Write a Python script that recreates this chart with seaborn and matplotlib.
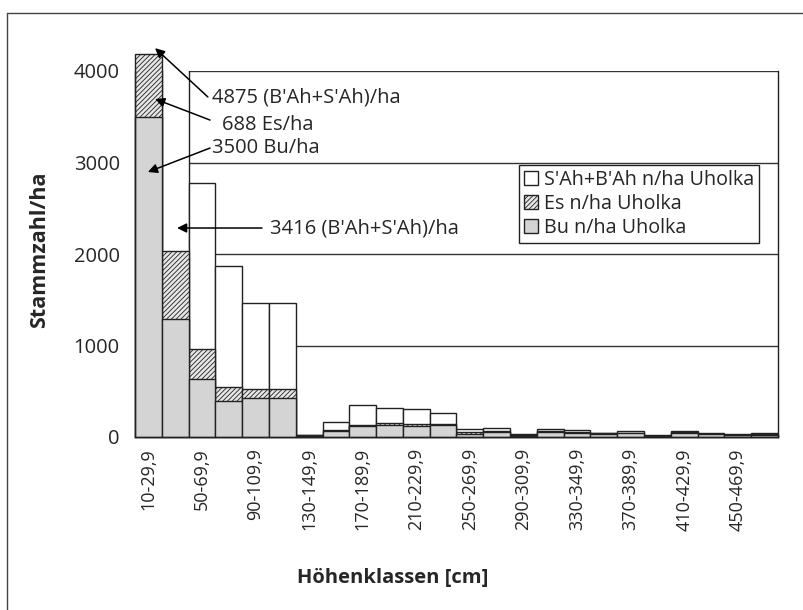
import matplotlib
matplotlib.use("Agg")
import matplotlib.pyplot as plt
from matplotlib.patches import Patch
from matplotlib.lines import Line2D
import seaborn as sns
import pandas as pd
import numpy as np

# Höhenklassen (20 cm)
klassen = ["10-29,9", "30-49,9", "50-69,9", "70-89,9", "90-109,9", "110-129,9",
           "130-149,9", "150-169,9", "170-189,9", "190-209,9", "210-229,9", "230-249,9",
           "250-269,9", "270-289,9", "290-309,9", "310-329,9", "330-349,9", "350-369,9",
           "370-389,9", "390-409,9", "410-429,9", "430-449,9", "450-469,9", "470-489,9"]

# n/ha per class
bu = [3500, 1290, 634, 393, 430, 430, 10, 62, 117, 128, 124, 128,
      35, 55, 15, 58, 45, 30, 40, 10, 45, 30, 20, 25]
es = [688, 743, 324, 157, 94, 94, 8, 19, 18, 25, 15, 18,
      15, 8, 10, 8, 6, 10, 5, 5, 5, 4, 5, 5]
ahorn = [4875, 3416, 1814, 1322, 944, 944, 7, 83, 219, 164, 171, 116,
         35, 37, 5, 26, 24, 8, 17, 5, 16, 10, 5, 10]

legend_labels = ["S'Ah+B'Ah n/ha Uholka", "Es n/ha Uholka", "Bu n/ha Uholka"]

df = pd.DataFrame({"klasse": klassen, "bu": bu, "es": es, "ahorn": ahorn})
df["bu_es"] = df["bu"] + df["es"]
df["total"] = df["bu_es"] + df["ahorn"]

sns.set_style("white")
plt.rcParams["font.family"] = ["Open Sans", "DejaVu Sans"]
plt.rcParams["hatch.linewidth"] = 0.6

fig = plt.figure(figsize=(8.04, 6.10), dpi=100)
ax = fig.add_axes([135 / 804, 1 - 437 / 610, 643 / 804, 366 / 610])

edge = "#222222"
grey = "#d4d4d4"
hatch_bg = "#e6e6e6"

# cumulative overlay: totals first, then Bu+Es, then Bu
sns.barplot(data=df, x="klasse", y="total", color="white", width=1, saturation=1,
            errorbar=None, edgecolor=edge, linewidth=1, ax=ax)
sns.barplot(data=df, x="klasse", y="bu_es", color=hatch_bg, width=1, saturation=1,
            errorbar=None, edgecolor=edge, linewidth=1, hatch="///////", ax=ax)
sns.barplot(data=df, x="klasse", y="bu", color=grey, width=1, saturation=1,
            errorbar=None, edgecolor=edge, linewidth=1, ax=ax)

# the first bar sticks out above the plot area
for cont in ax.containers[1:]:
    for p in cont:
        p.set_clip_on(False)

ax.set_ylim(0, 4000)
ax.set_xlim(-0.5, len(klassen) - 0.5)
ax.set_yticks([0, 1000, 2000, 3000, 4000])
ax.yaxis.grid(True, color="#333333", lw=1)
ax.set_axisbelow(True)

ax.set_xticks(range(0, len(klassen), 2))
ax.set_xticklabels(klassen[::2], rotation=90, fontsize=13)
ax.set_xticks(np.arange(-0.5, len(klassen), 1), minor=True)
ax.tick_params(axis="x", which="major", length=0, pad=8)
ax.tick_params(axis="x", which="minor", length=5, width=1, color=edge, direction="out")
ax.tick_params(axis="y", length=6, width=1, color=edge, direction="out", labelsize=14.5, pad=5)
ax.set_xlabel("")
ax.set_ylabel("")

ax.spines["top"].set_visible(False)
for s in ["left", "bottom", "right"]:
    ax.spines[s].set_color(edge)
    ax.spines[s].set_linewidth(1)

fig.text(393 / 804, 1 - 578 / 610, "Höhenklassen [cm]", ha="center", va="center",
         fontsize=14.5, fontweight="bold")
fig.text(40 / 804, 1 - 250 / 610, "Stammzahl/ha", ha="center", va="center",
         rotation=90, fontsize=15.5, fontweight="bold")

handles = [Patch(facecolor="white", edgecolor=edge, lw=1),
           Patch(facecolor=hatch_bg, edgecolor=edge, lw=1, hatch="///////"),
           Patch(facecolor=grey, edgecolor=edge, lw=1)]
leg = ax.legend(handles, legend_labels, loc="upper left", bbox_to_anchor=(0.597, 0.743),
                fontsize=14.2, frameon=True, fancybox=False, framealpha=1,
                handlelength=0.7, handleheight=0.7, handletextpad=0.3,
                borderpad=0.25, labelspacing=0.2, borderaxespad=0)
leg.get_frame().set_edgecolor(edge)
leg.get_frame().set_linewidth(1)

arrow = dict(arrowstyle="-|>", color="black", lw=1.1, mutation_scale=14,
             shrinkA=0, shrinkB=0)
# (tip, tail, text position, text)
notes = [((0.25, 4250), (2.22, 3716), (2.37, 3705), "4875 (B'Ah+S'Ah)/ha"),
         ((0.25, 3694), (2.30, 3464), (2.75, 3410), "688 Es/ha"),
         ((-0.02, 2896), (2.30, 3158), (2.37, 3158), "3500 Bu/ha"),
         ((1.07, 2284), (4.24, 2284), (4.54, 2284), "3416 (B'Ah+S'Ah)/ha")]
for tip, tail, pos, txt in notes:
    ax.annotate("", xy=tip, xytext=tail, arrowprops=arrow, annotation_clip=False)
    ax.text(pos[0], pos[1], txt, ha="left", va="center", fontsize=14.5)

# outer frame of the original figure (cropped on right/bottom)
fig.add_artist(Line2D([7 / 804, 7 / 804], [0, 1 - 13 / 610], transform=fig.transFigure,
                      color="#444444", lw=1))
fig.add_artist(Line2D([7 / 804, 1], [1 - 13 / 610, 1 - 13 / 610], transform=fig.transFigure,
                      color="#444444", lw=1))

fig.savefig("out.png", dpi=100)
plt.close(fig)
